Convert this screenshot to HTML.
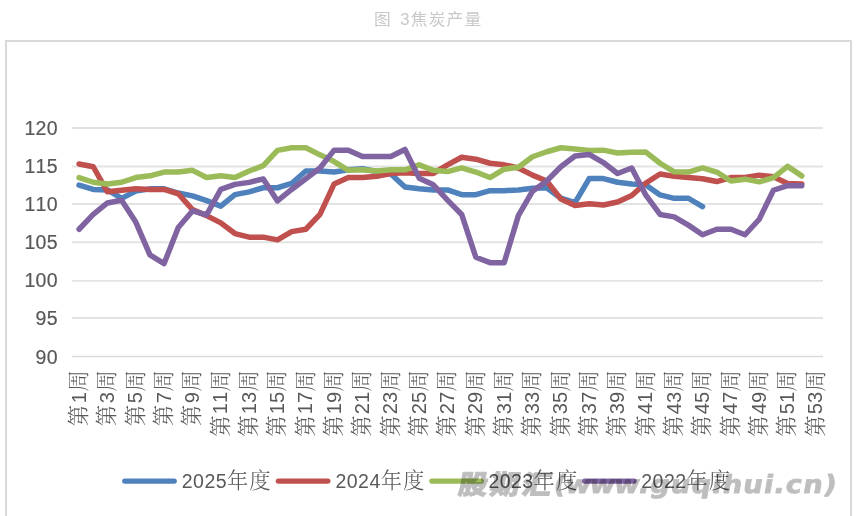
<!DOCTYPE html>
<html lang="zh-CN">
<head>
<meta charset="utf-8">
<title>图 3焦炭产量</title>
<style>
html,body{margin:0;padding:0;background:#fff;}
body{width:858px;height:516px;overflow:hidden;position:relative;font-family:'Liberation Sans', 'Noto Sans CJK SC', sans-serif;}
svg{position:absolute;left:0;top:0;display:block;}
text{font-family:'Liberation Sans', 'Noto Sans CJK SC', sans-serif;font-kerning:none;}
.c{font-family:'Liberation Serif','Noto Serif CJK SC',serif;font-size:21.3px;font-weight:300;letter-spacing:1px;}
.x .d{font-size:20.2px;letter-spacing:0;}
.d{font-family:'Liberation Sans',sans-serif;font-size:19.5px;letter-spacing:0.45px;}
</style>
</head>
<body>
<svg width="858" height="516" viewBox="0 0 858 516">
<rect x="0" y="0" width="858" height="516" fill="#ffffff"/>

<text transform="translate(374.0,25.3) scale(1.07,1)" font-size="15.6" fill="#c8c8c8" letter-spacing="1.2" word-spacing="2.1" xml:space="preserve">图 3焦炭产量</text>
<rect x="6" y="41" width="845" height="490" fill="none" stroke="#d9d9d9" stroke-width="2"/>
<line x1="72.0" y1="128.0" x2="823.0" y2="128.0" stroke="#e3e3e3" stroke-width="1.9"/>
<text x="58" y="135.0" text-anchor="end" font-size="19.5" letter-spacing="0.35" fill="#595959" stroke="#595959" stroke-width="0.2">120</text>
<line x1="72.0" y1="166.5" x2="823.0" y2="166.5" stroke="#e3e3e3" stroke-width="1.9"/>
<text x="58" y="173.1" text-anchor="end" font-size="19.5" letter-spacing="0.35" fill="#595959" stroke="#595959" stroke-width="0.2">115</text>
<line x1="72.0" y1="204.0" x2="823.0" y2="204.0" stroke="#e3e3e3" stroke-width="1.9"/>
<text x="58" y="211.2" text-anchor="end" font-size="19.5" letter-spacing="0.35" fill="#595959" stroke="#595959" stroke-width="0.2">110</text>
<line x1="72.0" y1="242.2" x2="823.0" y2="242.2" stroke="#e3e3e3" stroke-width="1.9"/>
<text x="58" y="249.2" text-anchor="end" font-size="19.5" letter-spacing="0.35" fill="#595959" stroke="#595959" stroke-width="0.2">105</text>
<line x1="72.0" y1="280.9" x2="823.0" y2="280.9" stroke="#e3e3e3" stroke-width="1.9"/>
<text x="58" y="287.3" text-anchor="end" font-size="19.5" letter-spacing="0.35" fill="#595959" stroke="#595959" stroke-width="0.2">100</text>
<line x1="72.0" y1="318.0" x2="823.0" y2="318.0" stroke="#e3e3e3" stroke-width="1.9"/>
<text x="58" y="325.4" text-anchor="end" font-size="19.5" letter-spacing="0.35" fill="#595959" stroke="#595959" stroke-width="0.2">95</text>
<line x1="72.0" y1="356.5" x2="823.0" y2="356.5" stroke="#d9d9d9" stroke-width="1.5"/>
<text x="58" y="363.5" text-anchor="end" font-size="19.5" letter-spacing="0.35" fill="#595959" stroke="#595959" stroke-width="0.2">90</text>
<polyline points="79.08,185.15 93.25,189.45 107.42,189.95 121.59,198.35 135.76,191.15 149.93,188.85 164.10,188.85 178.27,193.05 192.44,195.85 206.61,200.65 220.78,206.15 234.95,194.65 249.12,191.85 263.29,187.75 277.46,187.75 291.63,183.45 305.80,171.05 319.97,171.05 334.14,172.05 348.31,169.85 362.48,168.75 376.65,171.55 390.82,173.95 404.99,187.05 419.16,188.75 433.33,189.95 447.50,189.95 461.67,194.65 475.84,194.65 490.01,190.65 504.18,190.65 518.35,189.95 532.52,188.25 546.69,187.75 560.86,198.25 575.03,202.55 589.20,178.55 603.37,178.55 617.54,182.25 631.71,183.95 645.88,184.95 660.05,194.95 674.22,198.35 688.39,198.25 702.56,206.55" fill="none" stroke="#4F81BD" stroke-width="5.5" stroke-linecap="round" stroke-linejoin="round"/>
<polyline points="79.08,163.95 93.25,166.75 107.42,191.85 121.59,190.15 135.76,188.75 149.93,189.45 164.10,189.45 178.27,193.75 192.44,209.65 206.61,215.65 220.78,222.85 234.95,233.55 249.12,237.15 263.29,237.15 277.46,239.85 291.63,231.65 305.80,229.25 319.97,214.45 334.14,183.95 348.31,177.55 362.48,177.55 376.65,176.35 390.82,173.45 404.99,172.75 419.16,173.45 433.33,173.45 447.50,164.85 461.67,157.25 475.84,159.15 490.01,163.25 504.18,164.85 518.35,167.95 532.52,175.15 546.69,181.05 560.86,198.95 575.03,205.45 589.20,203.75 603.37,204.95 617.54,202.05 631.71,195.55 645.88,183.05 660.05,173.95 674.22,176.35 688.39,177.55 702.56,178.75 716.73,181.55 730.90,177.55 745.07,177.55 759.24,175.15 773.41,176.85 787.58,183.45 801.75,183.95" fill="none" stroke="#C0504D" stroke-width="5.5" stroke-linecap="round" stroke-linejoin="round"/>
<polyline points="79.08,177.55 93.25,182.25 107.42,183.95 121.59,182.25 135.76,177.55 149.93,175.85 164.10,172.05 178.27,172.05 192.44,170.35 206.61,177.55 220.78,175.85 234.95,177.55 249.12,171.05 263.29,165.65 277.46,150.35 291.63,147.75 305.80,147.75 319.97,154.85 334.14,161.55 348.31,170.35 362.48,169.65 376.65,171.05 390.82,169.85 404.99,169.85 419.16,164.85 433.33,170.35 447.50,171.55 461.67,167.95 475.84,172.05 490.01,177.55 504.18,169.15 518.35,167.25 532.52,156.75 546.69,151.75 560.86,147.75 575.03,148.95 589.20,150.55 603.37,150.15 617.54,152.95 631.71,152.25 645.88,152.05 660.05,163.25 674.22,171.85 688.39,172.05 702.56,167.95 716.73,172.05 730.90,181.05 745.07,179.15 759.24,181.85 773.41,177.55 787.58,166.35 801.75,175.85" fill="none" stroke="#9BBB59" stroke-width="5.5" stroke-linecap="round" stroke-linejoin="round"/>
<polyline points="79.08,229.25 93.25,214.45 107.42,202.95 121.59,200.25 135.76,222.05 149.93,254.95 164.10,263.55 178.27,227.55 192.44,210.95 206.61,214.95 220.78,189.45 234.95,184.35 249.12,182.35 263.29,178.95 277.46,200.95 291.63,189.45 305.80,178.75 319.97,167.95 334.14,150.15 348.31,150.15 362.48,156.55 376.65,156.55 390.82,156.55 404.99,149.45 419.16,178.15 433.33,184.85 447.50,200.15 461.67,214.45 475.84,257.25 490.01,262.65 504.18,262.65 518.35,215.65 532.52,191.15 546.69,181.05 560.86,166.75 575.03,156.05 589.20,154.45 603.37,162.55 617.54,173.45 631.71,167.95 645.88,195.15 660.05,214.45 674.22,216.85 688.39,225.15 702.56,234.75 716.73,229.25 730.90,229.25 745.07,234.75 759.24,219.25 773.41,190.25 787.58,185.65 801.75,185.65" fill="none" stroke="#8064A2" stroke-width="5.5" stroke-linecap="round" stroke-linejoin="round"/>
<text class="x" transform="translate(85.98,369.3) rotate(-90)" text-anchor="end" fill="#595959"><tspan class="c">第</tspan><tspan class="d" dx="0.55" dy="-0.4">1</tspan><tspan class="c" dx="0.45" dy="0.4">周</tspan></text>
<text class="x" transform="translate(114.32,369.3) rotate(-90)" text-anchor="end" fill="#595959"><tspan class="c">第</tspan><tspan class="d" dx="0.55" dy="-0.4">3</tspan><tspan class="c" dx="0.45" dy="0.4">周</tspan></text>
<text class="x" transform="translate(142.66,369.3) rotate(-90)" text-anchor="end" fill="#595959"><tspan class="c">第</tspan><tspan class="d" dx="0.55" dy="-0.4">5</tspan><tspan class="c" dx="0.45" dy="0.4">周</tspan></text>
<text class="x" transform="translate(171.00,369.3) rotate(-90)" text-anchor="end" fill="#595959"><tspan class="c">第</tspan><tspan class="d" dx="0.55" dy="-0.4">7</tspan><tspan class="c" dx="0.45" dy="0.4">周</tspan></text>
<text class="x" transform="translate(199.34,369.3) rotate(-90)" text-anchor="end" fill="#595959"><tspan class="c">第</tspan><tspan class="d" dx="0.55" dy="-0.4">9</tspan><tspan class="c" dx="0.45" dy="0.4">周</tspan></text>
<text class="x" transform="translate(227.68,369.3) rotate(-90)" text-anchor="end" fill="#595959"><tspan class="c">第</tspan><tspan class="d" dx="0.2" dy="-0.4">11</tspan><tspan class="c" dx="0.1" dy="0.4">周</tspan></text>
<text class="x" transform="translate(256.02,369.3) rotate(-90)" text-anchor="end" fill="#595959"><tspan class="c">第</tspan><tspan class="d" dx="0.2" dy="-0.4">13</tspan><tspan class="c" dx="0.1" dy="0.4">周</tspan></text>
<text class="x" transform="translate(284.36,369.3) rotate(-90)" text-anchor="end" fill="#595959"><tspan class="c">第</tspan><tspan class="d" dx="0.2" dy="-0.4">15</tspan><tspan class="c" dx="0.1" dy="0.4">周</tspan></text>
<text class="x" transform="translate(312.70,369.3) rotate(-90)" text-anchor="end" fill="#595959"><tspan class="c">第</tspan><tspan class="d" dx="0.2" dy="-0.4">17</tspan><tspan class="c" dx="0.1" dy="0.4">周</tspan></text>
<text class="x" transform="translate(341.04,369.3) rotate(-90)" text-anchor="end" fill="#595959"><tspan class="c">第</tspan><tspan class="d" dx="0.2" dy="-0.4">19</tspan><tspan class="c" dx="0.1" dy="0.4">周</tspan></text>
<text class="x" transform="translate(369.38,369.3) rotate(-90)" text-anchor="end" fill="#595959"><tspan class="c">第</tspan><tspan class="d" dx="0.2" dy="-0.4">21</tspan><tspan class="c" dx="0.1" dy="0.4">周</tspan></text>
<text class="x" transform="translate(397.72,369.3) rotate(-90)" text-anchor="end" fill="#595959"><tspan class="c">第</tspan><tspan class="d" dx="0.2" dy="-0.4">23</tspan><tspan class="c" dx="0.1" dy="0.4">周</tspan></text>
<text class="x" transform="translate(426.06,369.3) rotate(-90)" text-anchor="end" fill="#595959"><tspan class="c">第</tspan><tspan class="d" dx="0.2" dy="-0.4">25</tspan><tspan class="c" dx="0.1" dy="0.4">周</tspan></text>
<text class="x" transform="translate(454.40,369.3) rotate(-90)" text-anchor="end" fill="#595959"><tspan class="c">第</tspan><tspan class="d" dx="0.2" dy="-0.4">27</tspan><tspan class="c" dx="0.1" dy="0.4">周</tspan></text>
<text class="x" transform="translate(482.74,369.3) rotate(-90)" text-anchor="end" fill="#595959"><tspan class="c">第</tspan><tspan class="d" dx="0.2" dy="-0.4">29</tspan><tspan class="c" dx="0.1" dy="0.4">周</tspan></text>
<text class="x" transform="translate(511.08,369.3) rotate(-90)" text-anchor="end" fill="#595959"><tspan class="c">第</tspan><tspan class="d" dx="0.2" dy="-0.4">31</tspan><tspan class="c" dx="0.1" dy="0.4">周</tspan></text>
<text class="x" transform="translate(539.42,369.3) rotate(-90)" text-anchor="end" fill="#595959"><tspan class="c">第</tspan><tspan class="d" dx="0.2" dy="-0.4">33</tspan><tspan class="c" dx="0.1" dy="0.4">周</tspan></text>
<text class="x" transform="translate(567.76,369.3) rotate(-90)" text-anchor="end" fill="#595959"><tspan class="c">第</tspan><tspan class="d" dx="0.2" dy="-0.4">35</tspan><tspan class="c" dx="0.1" dy="0.4">周</tspan></text>
<text class="x" transform="translate(596.10,369.3) rotate(-90)" text-anchor="end" fill="#595959"><tspan class="c">第</tspan><tspan class="d" dx="0.2" dy="-0.4">37</tspan><tspan class="c" dx="0.1" dy="0.4">周</tspan></text>
<text class="x" transform="translate(624.44,369.3) rotate(-90)" text-anchor="end" fill="#595959"><tspan class="c">第</tspan><tspan class="d" dx="0.2" dy="-0.4">39</tspan><tspan class="c" dx="0.1" dy="0.4">周</tspan></text>
<text class="x" transform="translate(652.78,369.3) rotate(-90)" text-anchor="end" fill="#595959"><tspan class="c">第</tspan><tspan class="d" dx="0.2" dy="-0.4">41</tspan><tspan class="c" dx="0.1" dy="0.4">周</tspan></text>
<text class="x" transform="translate(681.12,369.3) rotate(-90)" text-anchor="end" fill="#595959"><tspan class="c">第</tspan><tspan class="d" dx="0.2" dy="-0.4">43</tspan><tspan class="c" dx="0.1" dy="0.4">周</tspan></text>
<text class="x" transform="translate(709.46,369.3) rotate(-90)" text-anchor="end" fill="#595959"><tspan class="c">第</tspan><tspan class="d" dx="0.2" dy="-0.4">45</tspan><tspan class="c" dx="0.1" dy="0.4">周</tspan></text>
<text class="x" transform="translate(737.80,369.3) rotate(-90)" text-anchor="end" fill="#595959"><tspan class="c">第</tspan><tspan class="d" dx="0.2" dy="-0.4">47</tspan><tspan class="c" dx="0.1" dy="0.4">周</tspan></text>
<text class="x" transform="translate(766.14,369.3) rotate(-90)" text-anchor="end" fill="#595959"><tspan class="c">第</tspan><tspan class="d" dx="0.2" dy="-0.4">49</tspan><tspan class="c" dx="0.1" dy="0.4">周</tspan></text>
<text class="x" transform="translate(794.48,369.3) rotate(-90)" text-anchor="end" fill="#595959"><tspan class="c">第</tspan><tspan class="d" dx="0.2" dy="-0.4">51</tspan><tspan class="c" dx="0.1" dy="0.4">周</tspan></text>
<text class="x" transform="translate(822.82,369.3) rotate(-90)" text-anchor="end" fill="#595959"><tspan class="c">第</tspan><tspan class="d" dx="0.2" dy="-0.4">53</tspan><tspan class="c" dx="0.1" dy="0.4">周</tspan></text>
<line x1="124.8" y1="481.1" x2="174.2" y2="481.1" stroke="#4F81BD" stroke-width="5.4" stroke-linecap="round"/>
<text x="181.8" y="488.2" fill="#595959"><tspan class="d">2025</tspan><tspan class="c">年度</tspan></text>
<line x1="278.4" y1="481.1" x2="327.8" y2="481.1" stroke="#C0504D" stroke-width="5.4" stroke-linecap="round"/>
<text x="335.5" y="488.2" fill="#595959"><tspan class="d">2024</tspan><tspan class="c">年度</tspan></text>
<line x1="431.9" y1="481.1" x2="481.3" y2="481.1" stroke="#9BBB59" stroke-width="5.4" stroke-linecap="round"/>
<text x="488.4" y="488.2" fill="#595959"><tspan class="d">2023</tspan><tspan class="c">年度</tspan></text>
<line x1="584.6" y1="481.1" x2="634.0" y2="481.1" stroke="#8064A2" stroke-width="5.4" stroke-linecap="round"/>
<text x="641.3" y="488.2" fill="#595959"><tspan class="d">2022</tspan><tspan class="c">年度</tspan></text>
<g opacity="0.25"><text transform="translate(457.2,493.8) skewX(-10) scale(1.1,1)" font-weight="bold" fill="#000000" stroke="#000000" stroke-linejoin="round" style="font-family:'DejaVu Sans', 'Noto Sans CJK SC', sans-serif"><tspan font-size="26.6" font-weight="900" letter-spacing="2.3" stroke-width="1">股期汇</tspan><tspan font-size="25" stroke-width="0.9" dy="-0.5"><tspan letter-spacing="-0.9">(www</tspan><tspan letter-spacing="0.95">.guqihui.cn)</tspan></tspan></text></g>
</svg>
</body>
</html>
